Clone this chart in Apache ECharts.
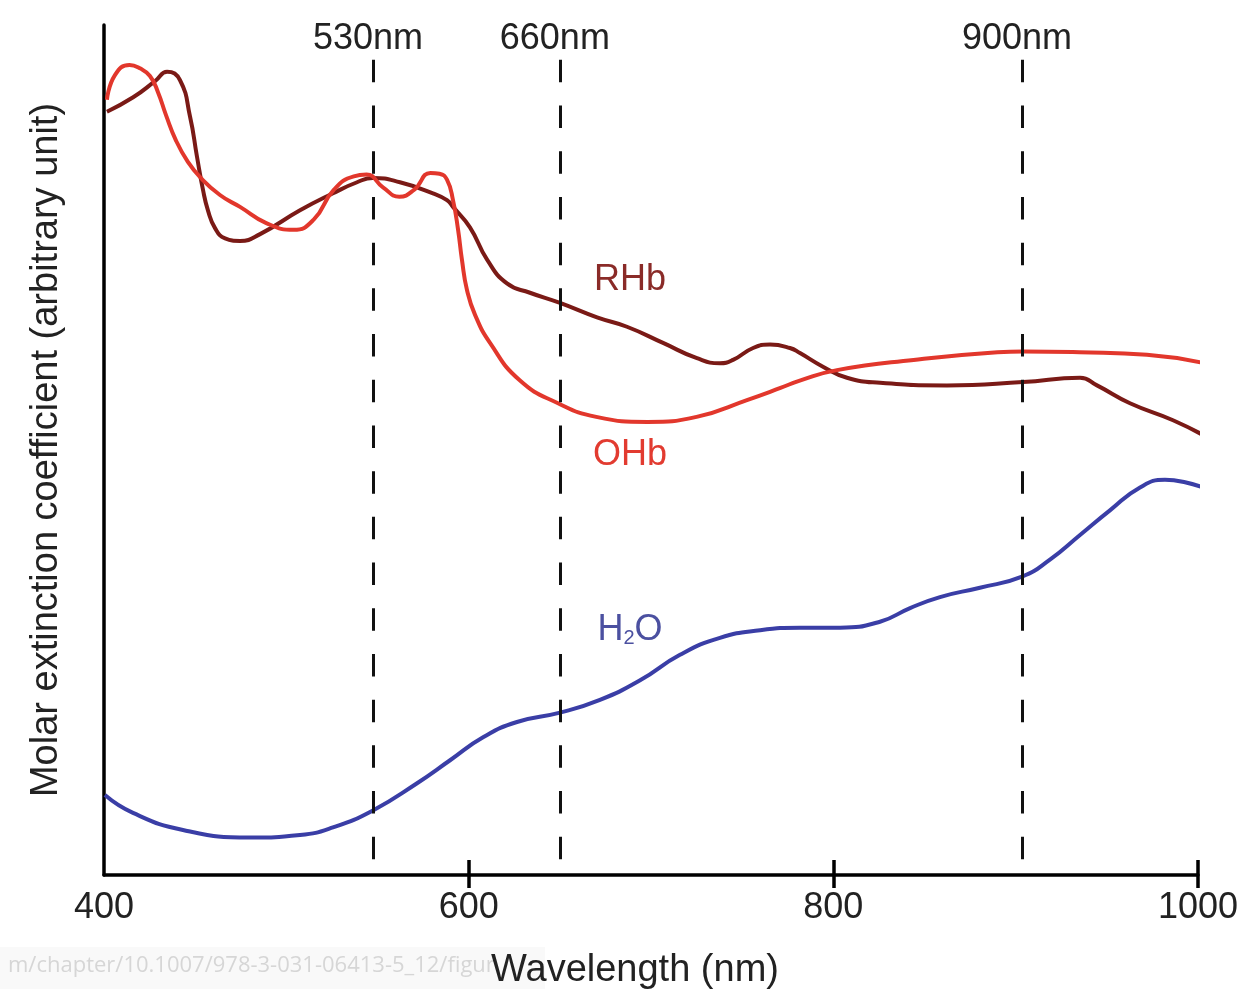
<!DOCTYPE html>
<html>
<head>
<meta charset="utf-8">
<script src="https://cdn.jsdelivr.net/npm/echarts@6/dist/echarts.min.js"></script>
<style>
html,body{margin:0;padding:0;background:#fff;}
#chart{width:1256px;height:989px;}
</style>
</head>
<body>
<div id="chart"></div>
<script>
// Wavelength (nm) vs molar extinction coefficient (arbitrary units, 0-100)
const ohb = [
  [401.6, 91.2], [406, 94.1], [414, 95.3], [419.7, 94.9], [425.2, 94.0], [429.6, 92.1],
  [434, 89.4], [439.5, 86.4], [446, 83.9], [452.7, 82.1], [463.6, 80.0], [474.6, 78.6],
  [489, 76.7], [504, 75.9], [515, 77.1], [526, 80.6], [537, 82.2], [544, 82.4],
  [553, 80.9], [562, 79.8], [570, 80.6], [579, 82.6], [584, 82.5], [588.1, 81.8],
  [591.4, 79.4], [594.2, 75.9], [596.3, 72.4], [599.1, 68.8], [603.5, 65.9], [611.7, 62.6],
  [628, 58.2], [649, 55.5], [670, 53.9], [698, 53.3], [725, 53.9], [753, 55.9],
  [771, 57.3], [782, 58.2], [802, 59.4], [844, 60.6], [890, 61.5], [904, 61.6],
  [935, 61.5], [972, 61.2], [1008, 60.0]
];
const rhb = [
  [401.6, 89.8], [416, 91.5], [428, 93.4], [434.6, 94.5], [441.7, 93.5], [447.2, 89.2],
  [451, 84.5], [454.3, 80.6], [457, 78.2], [460.9, 76.1], [466.4, 74.9], [474.6, 74.6],
  [485.6, 75.4], [507.5, 78.2], [525.6, 80.2], [538.8, 81.5], [547.5, 82.0], [562.3, 81.5],
  [580.4, 80.2], [588.1, 79.4], [591.4, 78.6], [600.7, 76.2], [610.1, 72.4], [621.0, 69.6],
  [633.6, 68.5], [650.1, 67.3], [670.4, 65.6], [686.8, 64.5], [706.6, 62.6], [725.2, 60.8],
  [737.8, 60.2], [745.0, 60.6], [756.0, 62.0], [765.3, 62.4], [776.2, 62.0], [781.7, 61.4],
  [794.3, 59.8], [807.5, 58.5], [825.6, 57.9], [862.3, 57.6], [904.0, 58.0], [935.3, 58.5],
  [944.6, 57.6], [962.7, 55.5], [986.3, 53.5], [1005.0, 51.5]
];
const h2o = [
  [400.5, 9.4], [415.9, 7.3], [443.3, 5.3], [480.1, 4.4], [507.5, 4.7], [525.6, 5.6],
  [547.5, 7.6], [571.7, 10.8], [589.8, 13.5], [607.9, 16.2], [626.5, 18.0], [650.1, 19.1],
  [672.0, 20.6], [694.0, 22.9], [715.9, 25.9], [737.8, 27.9], [759.8, 28.8], [781.7, 29.1],
  [803.7, 29.1], [825.6, 29.8], [842.1, 31.4], [858.5, 32.7], [880.4, 33.8], [903.5, 35.1],
  [918.8, 37.1], [935.3, 40.0], [951.7, 42.9], [968.2, 45.6], [981.9, 46.5], [992.9, 46.2],
  [1006.6, 45.3]
];
const markerPositions = [547.5, 650, 903.5];
const markerLabels = ['530nm', '660nm', '900nm'];
const markerRange = [1.8, 95.9];
const xTicks = [600, 800, 1000];
const seriesLabels = [
  { name: 'RHb', coord: [688.5, 70.0] },
  { name: 'OHb', coord: [688.5, 49.4] },
  { name: 'H2O', coord: [688.5, 28.8] }
];

const FONT = '"Liberation Sans", Arial, sans-serif';
const chart = echarts.init(document.getElementById('chart'));

const markLineData = markerPositions.map((x, i) => [
  { coord: [x, markerRange[1]], label: { formatter: markerLabels[i] } },
  { coord: [x, markerRange[0]] }
]);

function labelPoint(item, color, extra) {
  return {
    symbol: 'circle', symbolSize: 0,
    label: Object.assign({
      show: true, position: 'inside', color: color,
      fontFamily: FONT, fontSize: 36
    }, extra || {}),
    data: [{ coord: item.coord, value: item.name }]
  };
}

chart.setOption({
  animation: false,
  backgroundColor: '#ffffff',
  grid: { left: 104, right: 58, top: 25, bottom: 114, containLabel: false,
    outerBoundsMode: 'none' },
  xAxis: [{
    type: 'value', min: 400, max: 1000, interval: 200,
    axisLine: { show: true, onZero: false, lineStyle: { color: '#000', width: 3.5 } },
    axisTick: { show: true, inside: false, length: 13, customValues: xTicks,
      lineStyle: { color: '#000', width: 3.5 } },
    axisLabel: { show: true, margin: 15, fontSize: 36, color: '#222', fontFamily: FONT,
      formatter: v => String(v) },
    splitLine: { show: false },
    name: 'Wavelength (nm)', nameLocation: 'middle', nameGap: 77,
    nameTextStyle: { fontSize: 38, color: '#222', fontFamily: FONT, padding: [0, 32, 0, 0] }
  }, {
    type: 'value', min: 400, max: 1000, interval: 200, position: 'bottom', offset: 0,
    axisLine: { show: false },
    axisTick: { show: true, inside: true, length: 15, customValues: xTicks,
      lineStyle: { color: '#000', width: 3.5 } },
    axisLabel: { show: false },
    splitLine: { show: false }
  }],
  yAxis: {
    type: 'value', min: 0, max: 100,
    axisLine: { show: true, onZero: false, lineStyle: { color: '#000', width: 3.5 } },
    axisTick: { show: false },
    axisLabel: { show: false },
    splitLine: { show: false },
    name: 'Molar extinction coefficient (arbitrary unit)',
    nameLocation: 'middle', nameGap: 38,
    nameTextStyle: { fontSize: 38, color: '#222', fontFamily: FONT }
  },
  series: [
    {
      name: 'RHb', type: 'line', data: rhb, smooth: 0.5, showSymbol: false, clip: false,
      lineStyle: { color: '#7a1a16', width: 4 }, z: 3,
      markPoint: labelPoint(seriesLabels[0], '#8a2b28'),
      markLine: {
        silent: true, symbol: ['none', 'none'],
        lineStyle: { color: '#111', width: 3, type: [22.5, 23.2] },
        label: { show: true, position: 'start', distance: 3, fontSize: 36, color: '#222',
          fontFamily: FONT, padding: [0, 10, 0, 0] },
        data: markLineData
      }
    },
    {
      name: 'OHb', type: 'line', data: ohb, smooth: 0.5, showSymbol: false, clip: false,
      lineStyle: { color: '#e2372c', width: 4 }, z: 4,
      markPoint: labelPoint(seriesLabels[1], '#e23b30')
    },
    {
      name: 'H2O', type: 'line', data: h2o, smooth: 0.5, showSymbol: false, clip: false,
      lineStyle: { color: '#3a3ea6', width: 4 }, z: 3,
      markPoint: labelPoint(seriesLabels[2], '#4b50a0', {
        formatter: '{a|H}{s|2}{a|O}',
        rich: {
          a: { fontSize: 36, color: '#4b50a0', fontFamily: FONT },
          s: { fontSize: 20, color: '#4b50a0', fontFamily: FONT, padding: [16, 0, 0, 0] }
        }
      })
    }
  ],
  graphic: [
    { type: 'rect', left: 0, top: 947, shape: { width: 545, height: 42 },
      style: { fill: '#f9f9f9' }, z: -1 },
    { type: 'text', left: 8, top: 955,
      style: { text: 'm/chapter/10.1007/978-3-031-06413-5_12/figur', fill: '#d6d6d6',
        fontSize: 22, fontFamily: '"Open Sans", sans-serif' }, z: 0 }
  ]
});
</script>
</body>
</html>
